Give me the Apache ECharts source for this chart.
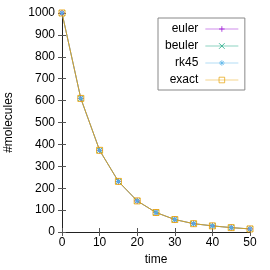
<!DOCTYPE html>
<html><head><meta charset="utf-8">
<script src="https://cdn.jsdelivr.net/npm/echarts@6/dist/echarts.min.js"></script>
<style>html,body{margin:0;padding:0;background:#fff}#c{width:270px;height:270px}</style>
</head><body><div id="c"></div>
<script>
var times = [0, 5, 10, 15, 20, 25, 30, 35, 40, 45, 50];
var euler = [1000, 610, 373, 231, 142, 89, 57, 38, 28, 20, 14];
var beuler = [1000, 610, 373, 231, 142, 89, 57, 38, 28, 20, 14];
var rk45 = [1000, 610, 373, 231, 142, 89, 57, 38, 28, 20, 14];
var exact = [1000, 610, 373, 231, 142, 89, 57, 38, 28, 20, 14];
var names = ['euler', 'beuler', 'rk45', 'exact'];
var colors = ['#9400d3', '#009e73', '#56b4e9', '#e69f00'];

function pairs(v){ return times.map(function(t,i){ return [t, v[i]]; }); }
var font = 'Liberation Sans, Arial, sans-serif';
var plus = 'path://M0,5L10,5M5,0L5,10';
var cross = 'path://M1,1L9,9M9,1L1,9';
var star = 'path://M0,5L10,5M5,0L5,10M1.5,1.5L8.5,8.5M8.5,1.5L1.5,8.5';
var square = 'path://M0,0L10,0L10,10L0,10Z';
var symbols = [plus, cross, star, square];
var sizes = [6, 5, 6, 6];
var lineOp = [0.4, 0.4, 0.45, 0.8];

function mk(i, data){
  return {
    name: names[i], type: 'line', data: pairs(data),
    symbol: symbols[i], symbolSize: sizes[i], showSymbol: true,
    lineStyle: {color: colors[i], width: 1, opacity: lineOp[i]},
    itemStyle: {color: 'rgba(0,0,0,0)', borderColor: colors[i], borderWidth: 1, opacity: 0.85},
    emphasis: {disabled: true}, animation: false
  };
}
var axisCommon = {
  axisLine: {show: true, lineStyle: {color: '#222', width: 1}},
  axisTick: {show: true, inside: true, length: 4, lineStyle: {color: '#555'}},
  splitLine: {show: false}
};
var chart = echarts.init(document.getElementById('c'));
chart.setOption({
  animation: false,
  grid: {left: 62, right: 20, top: 13, bottom: 38, containLabel: false, outerBoundsMode: 'none'},
  xAxis: [
    Object.assign({type: 'value', min: 0, max: 50, interval: 10, position: 'bottom',
      name: 'time', nameLocation: 'middle', nameGap: 21,
      nameTextStyle: {fontFamily: font, fontSize: 12, color: '#000'},
      axisLabel: {fontFamily: font, fontSize: 12, color: '#000', margin: 5}}, axisCommon),
    Object.assign({type: 'value', min: 0, max: 50, interval: 10, position: 'top',
      axisLabel: {show: false}}, axisCommon)
  ],
  yAxis: [
    Object.assign({type: 'value', min: 0, max: 1000, interval: 100, position: 'left',
      name: '#molecules', nameLocation: 'middle', nameGap: 47,
      nameTextStyle: {fontFamily: font, fontSize: 12, color: '#000'},
      axisLabel: {fontFamily: font, fontSize: 12, color: '#000', margin: 7,
        formatter: function(v){ return String(v); }}}, axisCommon),
    Object.assign({type: 'value', min: 0, max: 1000, interval: 100, position: 'right',
      axisLabel: {show: false}}, axisCommon)
  ],
  legend: {
    orient: 'vertical', left: 158, top: 18, align: 'right',
    backgroundColor: '#fff', borderColor: '#888', borderWidth: 1,
    padding: [4, 6, 3, 7], itemGap: 3, itemWidth: 33, itemHeight: 7,
    textStyle: {fontFamily: font, fontSize: 12, color: '#000', lineHeight: 14, padding: [0, 2, 0, 0]},
    data: names.map(function(n, i){
      return {name: n,
        itemStyle: {color: 'rgba(0,0,0,0)', borderColor: colors[i], borderWidth: 1, opacity: 0.7},
        lineStyle: {color: colors[i], width: 1, opacity: 0.45}};
    })
  },
  series: [mk(0, euler), mk(1, beuler), mk(2, rk45), mk(3, exact)]
});
</script></body></html>
